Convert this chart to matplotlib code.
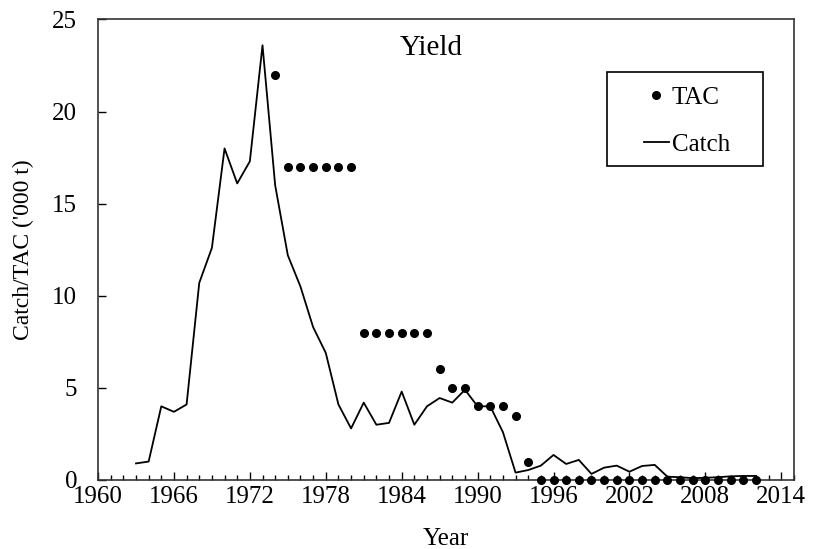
import matplotlib.pyplot as plt
from matplotlib.patches import Rectangle
from matplotlib.ticker import MultipleLocator

plt.rcParams['font.family'] = ['Liberation Serif', 'DejaVu Serif']

# catch by year ('000 t)
catch_years = list(range(1963, 2013))
catch = [0.9, 1.0, 4.0, 3.7, 4.1, 10.7, 12.6, 18.0, 16.1, 17.3,
         23.6, 16.0, 12.2, 10.5, 8.3, 6.9, 4.1, 2.8, 4.2, 3.0,
         3.1, 4.8, 3.0, 4.0, 4.45, 4.2, 4.9, 4.0, 4.0, 2.6,
         0.4, 0.54, 0.78, 1.36, 0.87, 1.09, 0.33, 0.67, 0.78, 0.45,
         0.76, 0.82, 0.18, 0.15, 0.1, 0.12, 0.15, 0.2, 0.22, 0.22]

# TAC by year
tac_years = list(range(1974, 2013))
tac = [22, 17, 17, 17, 17, 17, 17, 8, 8, 8, 8, 8, 8, 6, 5, 5, 4, 4, 4, 3.5, 1] + [0] * 18

fig = plt.figure(figsize=(8.21, 5.49), dpi=100)
ax = fig.add_axes([0.1194, 0.1257, 0.8476, 0.8388])

ax.plot(tac_years, tac, 'ko', ms=5.5, label='TAC', clip_on=False, zorder=3)
ax.plot(catch_years, catch, 'k-', lw=1.3, label='Catch')

ax.set_xlim(1960, 2015)
ax.set_ylim(0, 25)
ax.set_xticks(range(1960, 2015, 6))
ax.xaxis.set_minor_locator(MultipleLocator(1))
ax.set_yticks(range(0, 26, 5))
ax.tick_params(axis='both', which='major', direction='in', length=6, width=1, labelsize=18)
ax.tick_params(axis='x', which='major', pad=4)
ax.tick_params(axis='y', which='major', pad=15)
ax.tick_params(axis='x', which='minor', direction='in', length=3.5, width=1)
for s in ax.spines.values():
    s.set_linewidth(1.2)
    s.set_color('#333333')

ax.set_xlabel('Year', fontsize=18, labelpad=15)
ax.set_ylabel("Catch/TAC ('000 t)", fontsize=17, labelpad=13)
ax.text(0.479, 0.938, 'Yield', transform=ax.transAxes, ha='center', va='center', fontsize=21)

# legend box drawn separately so the padding can be wider than tall
ax.add_patch(Rectangle((0.731, 0.682), 0.224, 0.204, transform=ax.transAxes,
                       fill=False, edgecolor='black', lw=1.2))
ax.legend(loc='upper left', bbox_to_anchor=(0.7845, 0.854), fontsize=18, frameon=False,
          labelspacing=0.97, borderpad=0, handlelength=1.0, handletextpad=0.12,
          borderaxespad=0)

fig.savefig('out.png', dpi=100)
